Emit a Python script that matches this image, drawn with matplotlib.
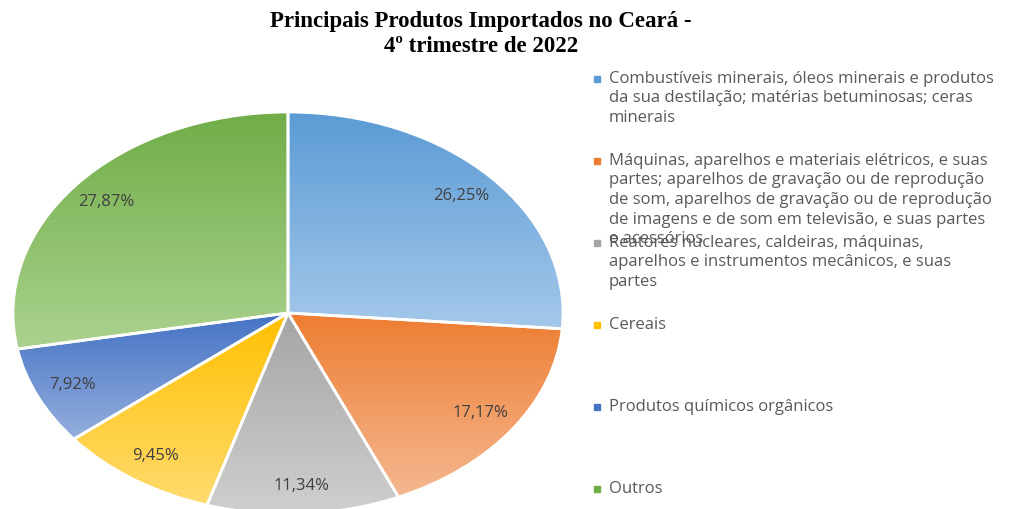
import numpy as np
import matplotlib
matplotlib.use('Agg')
import matplotlib.pyplot as plt
from matplotlib.colors import to_rgb

# ---- data ----
title_lines = ["Principais Produtos Importados no Ceará -", "4º trimestre de 2022"]
categories = [
    "Combustíveis minerais, óleos minerais e produtos\nda sua destilação; matérias betuminosas; ceras\nminerais",
    "Máquinas, aparelhos e materiais elétricos, e suas\npartes; aparelhos de gravação ou de reprodução\nde som, aparelhos de gravação ou de reprodução\nde imagens e de som em televisão, e suas partes\ne acessórios",
    "Reatores nucleares, caldeiras, máquinas,\naparelhos e instrumentos mecânicos, e suas\npartes",
    "Cereais",
    "Produtos químicos orgânicos",
    "Outros",
]
values = [26.25, 17.17, 11.34, 9.45, 7.92, 27.87]
top_colors = ["#5B9BD5", "#ED7D31", "#A5A5A5", "#FFC000", "#4472C4", "#70AD47"]
bottom_colors = ["#A4C8EA", "#F5B891", "#CFCFCF", "#FFDB6E", "#94AEDD", "#ABD28F"]

# ---- layout ----
W, H = 1029, 509
fig = plt.figure(figsize=(W / 100, H / 100), dpi=100)
fig.patch.set_facecolor('white')

cx, cy, rx, ry = 288, 313, 275, 201
ax = fig.add_axes([(cx - rx) / W, (H - cy - ry) / H, 2 * rx / W, 2 * ry / H])

wedges, texts, autotexts = ax.pie(
    values, startangle=90, counterclock=False, radius=1,
    autopct=lambda p: f"{p:.2f}%".replace('.', ','), pctdistance=0.86,
    wedgeprops=dict(edgecolor='white', linewidth=2),
    textprops=dict(color='#404040', fontsize=12, family='Open Sans'))

for w, ct, cb in zip(wedges, top_colors, bottom_colors):
    w.set_facecolor('none')
    w.set_clip_on(False)
    ext = w.get_path().get_extents()
    t = np.linspace(0, 1, 256)[:, None]
    grad = (1 - t) * np.array(to_rgb(ct)) + t * np.array(to_rgb(cb))
    im = ax.imshow(grad[:, None, :], extent=[ext.x0, ext.x1, ext.y0, ext.y1],
                   origin='upper', aspect='auto', zorder=0.5, interpolation='bilinear')
    im.set_clip_path(w)

ax.set_aspect('auto')
ax.set_xlim(-1, 1)
ax.set_ylim(-1, 1)
ax.axis('off')

# title
for i, line in enumerate(title_lines):
    fig.text(481 / W, 1 - (22 + i * 24) / H, line, ha='center', va='center',
             family='Liberation Serif', fontweight='bold', fontsize=16.5, color='black')

# legend
entry_y = [79, 161, 243, 325, 407, 489]
line_h = 19.5
for cat, y0, ct in zip(categories, entry_y, top_colors):
    fig.patches.append(plt.Rectangle(((597 - 3) / W, 1 - (y0 + 3) / H), 6 / W, 6 / H,
                                     transform=fig.transFigure, color=ct, figure=fig))
    for j, line in enumerate(cat.split('\n')):
        fig.text(609 / W, 1 - (y0 + j * line_h) / H, line, ha='left', va='center',
                 family='Open Sans', fontsize=12, color='#595959')

fig.savefig('out.png', dpi=100)
